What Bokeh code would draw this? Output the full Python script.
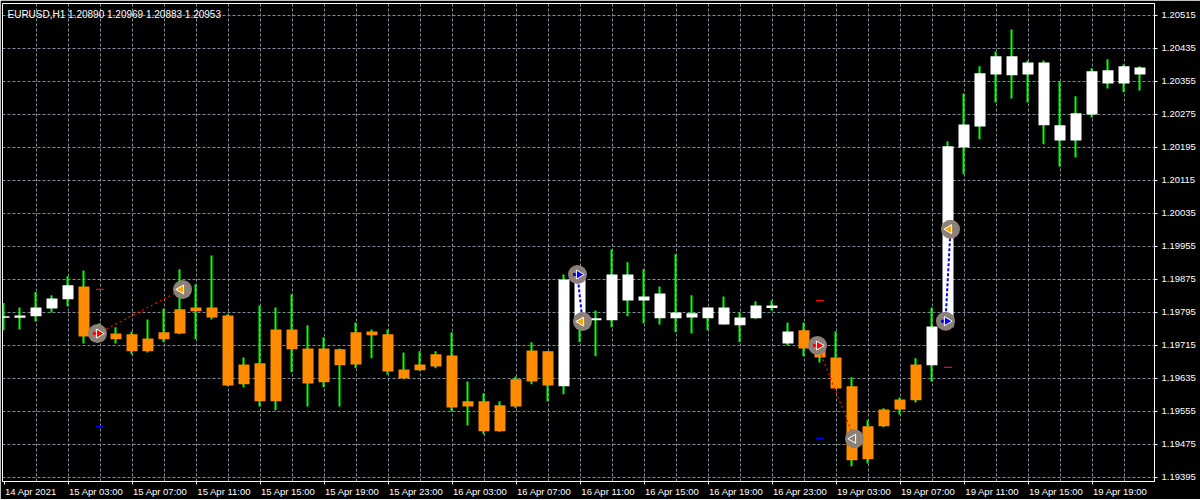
import math
from bokeh.plotting import figure
from bokeh.models import (Range1d, FixedTicker, PrintfTickFormatter, CustomJSTickFormatter,
                          ColumnDataSource, Label, LinearAxis)
from bokeh.embed import file_html
from bokeh.resources import INLINE

# ---------------- data ----------------
chart_title = "EURUSD,H1  1.20890 1.20969 1.20883 1.20953"

opens = [1.19781, 1.19781, 1.19785, 1.19804, 1.19826, 1.19857, 1.19741, 1.19743, 1.19741, 1.19731,
         1.19746, 1.19802, 1.19806, 1.19806, 1.19787, 1.19668, 1.19671, 1.19753, 1.19753, 1.19707,
         1.19707, 1.19705, 1.19746, 1.19748, 1.19741, 1.19656, 1.19668, 1.19693, 1.19690, 1.19579,
         1.19579, 1.19569, 1.19632, 1.19702, 1.19700, 1.19615, 1.19775, 1.19775, 1.19775, 1.19823,
         1.19823, 1.19780, 1.19780, 1.19782, 1.19780, 1.19765, 1.19763, 1.19780, 1.19805, 1.19719,
         1.19751, 1.19712, 1.19685, 1.19615, 1.19518, 1.19559, 1.19583, 1.19668, 1.19666, 1.19758,
         1.20194, 1.20245, 1.20371, 1.20369, 1.20371, 1.20248, 1.20211, 1.20211, 1.20274, 1.20349,
         1.20349, 1.20371]
highs = [1.19817, 1.19806, 1.19844, 1.19836, 1.19882, 1.19896, 1.19768, 1.19758, 1.19748, 1.19777,
         1.19804, 1.19899, 1.19862, 1.19932, 1.19789, 1.19685, 1.19811, 1.19806, 1.19838, 1.19763,
         1.19734, 1.19707, 1.19770, 1.19753, 1.19753, 1.19697, 1.19700, 1.19700, 1.19746, 1.19627,
         1.19598, 1.19579, 1.19639, 1.19722, 1.19700, 1.19886, 1.19884, 1.19799, 1.19947, 1.19916,
         1.19899, 1.19857, 1.19935, 1.19836, 1.19806, 1.19833, 1.19794, 1.19821, 1.19823, 1.19770,
         1.19770, 1.19734, 1.19748, 1.19637, 1.19533, 1.19562, 1.19588, 1.19683, 1.19806, 1.20209,
         1.20325, 1.20391, 1.20427, 1.20480, 1.20405, 1.20405, 1.20354, 1.20318, 1.20386, 1.20408,
         1.20395, 1.20391]
lows = [1.19751, 1.19753, 1.19772, 1.19794, 1.19809, 1.19719, 1.19726, 1.19719, 1.19693, 1.19697,
        1.19722, 1.19741, 1.19729, 1.19777, 1.19615, 1.19613, 1.19566, 1.19557, 1.19649, 1.19566,
        1.19613, 1.19566, 1.19659, 1.19683, 1.19644, 1.19632, 1.19653, 1.19659, 1.19554, 1.19520,
        1.19499, 1.19505, 1.19562, 1.19620, 1.19579, 1.19596, 1.19722, 1.19688, 1.19758, 1.19785,
        1.19768, 1.19765, 1.19746, 1.19743, 1.19751, 1.19765, 1.19722, 1.19779, 1.19799, 1.19714,
        1.19688, 1.19673, 1.19608, 1.19421, 1.19428, 1.19516, 1.19547, 1.19576, 1.19627, 1.19755,
        1.20129, 1.20214, 1.20303, 1.20313, 1.20303, 1.20202, 1.20148, 1.20170, 1.20267, 1.20337,
        1.20328, 1.20332]
closes = [1.19785, 1.19787, 1.19806, 1.19828, 1.19860, 1.19736, 1.19729, 1.19729, 1.19700, 1.19700,
          1.19729, 1.19743, 1.19797, 1.19782, 1.19617, 1.19620, 1.19579, 1.19579, 1.19705, 1.19622,
          1.19625, 1.19666, 1.19668, 1.19739, 1.19651, 1.19634, 1.19654, 1.19663, 1.19564, 1.19566,
          1.19506, 1.19506, 1.19566, 1.19627, 1.19617, 1.19874, 1.19874, 1.19780, 1.19886, 1.19886,
          1.19833, 1.19840, 1.19794, 1.19792, 1.19806, 1.19806, 1.19782, 1.19811, 1.19811, 1.19748,
          1.19707, 1.19685, 1.19610, 1.19436, 1.19438, 1.19518, 1.19559, 1.19581, 1.19760, 1.20197,
          1.20250, 1.20374, 1.20415, 1.20415, 1.20400, 1.20400, 1.20248, 1.20277, 1.20379, 1.20381,
          1.20391, 1.20388]

time_tick_bars = [0, 4, 8, 12, 16, 20, 24, 28, 32, 36, 40, 44, 48, 52, 56, 60, 64, 68]
time_tick_labels = ["14 Apr 2021", "15 Apr 03:00", "15 Apr 07:00", "15 Apr 11:00", "15 Apr 15:00",
                    "15 Apr 19:00", "15 Apr 23:00", "16 Apr 03:00", "16 Apr 07:00", "16 Apr 11:00",
                    "16 Apr 15:00", "16 Apr 19:00", "16 Apr 23:00", "19 Apr 03:00", "19 Apr 07:00",
                    "19 Apr 11:00", "19 Apr 15:00", "19 Apr 19:00"]
price_ticks = [1.19395, 1.19475, 1.19555, 1.19635, 1.19715, 1.19795, 1.19875, 1.19955,
               1.20035, 1.20115, 1.20195, 1.20275, 1.20355, 1.20435, 1.20515]

trade_side = ["sell", "buy", "sell", "buy"]
entry_bar = [6, 36, 51, 59]
entry_price = [1.19743, 1.19886, 1.19714, 1.19773]
exit_bar = [11, 36, 53, 59]
exit_price = [1.19850, 1.19772, 1.19488, 1.19996]
stop_loss = [1.19850, 1.19772, 1.19823, 1.19661]
take_profit = [1.19518, float("nan"), 1.19489, 1.19996]
exit_filled = [True, True, False, True]

# ---------------- layout / style ----------------
PX = 16.0                       # pixels per bar
FRAME_W, FRAME_H = 1152, 478
X0 = -1.5 / PX
Y_LO, Y_HI = 1.19384333, 1.20543121
FONT_NAME = "Liberation Sans"
FS_NUM = 9.5
FS = f"{FS_NUM}px"
BULL, BEAR, WICK = "#FFFFFF", "#FF8C00", "#00FF00"
GRID = "#7F8C9A"

# approximate advance widths (em) of Liberation Sans, to left-align time labels at their ticks
_W = {" ": 0.278, ":": 0.278, "A": 0.667, "p": 0.556, "r": 0.333}
def text_w(s):
    return sum(_W.get(ch, 0.556) for ch in s) * FS_NUM

p = figure(frame_width=FRAME_W, frame_height=FRAME_H,
           x_range=Range1d(X0, X0 + FRAME_W / PX), y_range=Range1d(Y_LO, Y_HI),
           x_axis_location="below", y_axis_location="right",
           output_backend="svg", toolbar_location=None,
           min_border_left=2, min_border_top=3, min_border_right=46, min_border_bottom=4,
           background_fill_color="black", border_fill_color="black",
           outline_line_color="white", outline_line_width=1)

# price axis (right)
p.yaxis.ticker = FixedTicker(ticks=price_ticks)
p.yaxis.formatter = PrintfTickFormatter(format="%.5f")
p.yaxis.major_label_text_color = "white"
p.yaxis.major_label_text_font = FONT_NAME
p.yaxis.major_label_text_font_size = FS
p.yaxis.major_tick_out = 3
p.yaxis.major_tick_in = 0
p.yaxis.minor_tick_line_color = None
p.yaxis.major_tick_line_color = "white"
p.yaxis.axis_line_color = "white"
p.yaxis.major_label_standoff = 4

# time axis: tick marks at the bars
p.xaxis.ticker = FixedTicker(ticks=time_tick_bars)
p.xaxis.formatter = CustomJSTickFormatter(code="return ''")
p.xaxis.major_label_text_font_size = "0px"
p.xaxis.major_label_standoff = 0
p.xaxis.major_tick_out = 3
p.xaxis.major_tick_in = 0
p.xaxis.minor_tick_line_color = None
p.xaxis.major_tick_line_color = "white"
p.xaxis.axis_line_color = "white"

# time labels: second axis, labels starting at their tick
lab_pos = [b + (1.0 + text_w(t) / 2.0) / PX for b, t in zip(time_tick_bars, time_tick_labels)]
lab_axis = LinearAxis(
    ticker=FixedTicker(ticks=lab_pos),
    formatter=CustomJSTickFormatter(
        args=dict(pos=lab_pos, labels=time_tick_labels),
        code="const i = pos.findIndex(v => Math.abs(v - tick) < 1e-6); return i >= 0 ? labels[i] : '';"),
    major_tick_out=0, major_tick_in=0, minor_tick_line_color=None, major_tick_line_color=None,
    axis_line_color=None, major_label_standoff=1,
    major_label_text_color="white", major_label_text_font=FONT_NAME, major_label_text_font_size=FS)
p.add_layout(lab_axis, "below")

# grids
p.xgrid.ticker = FixedTicker(ticks=list(range(2, len(opens), 2)))
for g in (p.xgrid, p.ygrid):
    g.grid_line_color = GRID
    g.grid_line_dash = "3 2"
    g.grid_line_width = 1

# candles
n = len(opens)
bars = list(range(n))
src = ColumnDataSource(dict(
    x=bars,
    wx=[b - 0.5 / PX for b in bars],
    top=[max(o, c) for o, c in zip(opens, closes)],
    bottom=[min(o, c) for o, c in zip(opens, closes)],
    high=highs, low=lows,
    color=[BULL if c >= o else BEAR for o, c in zip(opens, closes)],
))
p.segment(x0="wx", y0="high", x1="wx", y1="low", line_color=WICK, line_width=2, source=src)
p.vbar(x="x", width=11 / PX, top="top", bottom="bottom", fill_color="color",
       line_color=None, source=src)

# trades
ENTRY_SHIFT = -2.5 / PX
EXIT_SHIFT = 2.5 / PX
for side, eb, ep, xb, xp in zip(trade_side, entry_bar, entry_price, exit_bar, exit_price):
    if side == "sell":
        p.line([eb + ENTRY_SHIFT, xb + EXIT_SHIFT], [ep, xp], line_color="#FF0000",
               line_width=1.3, line_dash="2 3")
    else:
        p.line([eb + ENTRY_SHIFT, xb + EXIT_SHIFT], [ep, xp], line_color="#0000FF",
               line_width=2, line_dash="3 2")

p.scatter(x=entry_bar, y=stop_loss, marker="dash", size=8, line_color="#FF0000", line_width=1.3)
p.scatter(x=entry_bar, y=take_profit, marker="dash", size=8, line_color="#0000FF", line_width=1.3)

circ_x = [b + ENTRY_SHIFT for b in entry_bar] + [b + EXIT_SHIFT for b in exit_bar]
circ_y = entry_price + exit_price
p.scatter(x=circ_x, y=circ_y, marker="circle", size=19, fill_color="#8C8178", line_color=None)

arrow_col = ["#FF0000" if s == "sell" else "#0000FF" for s in trade_side]
p.scatter(x=[b + ENTRY_SHIFT - 2.0 / PX for b in entry_bar], y=entry_price, marker="dash",
          size=5, line_color=arrow_col, line_width=3)
p.scatter(x=[b + ENTRY_SHIFT + 1.5 / PX for b in entry_bar], y=entry_price, marker="triangle",
          angle=-math.pi / 2, size=9, fill_color=arrow_col, line_color="white", line_width=1)
p.scatter(x=[b + EXIT_SHIFT - 1.5 / PX for b in exit_bar], y=exit_price, marker="triangle",
          angle=math.pi / 2, size=9,
          fill_color=["#FFA500" if f else "#8C8178" for f in exit_filled],
          line_color="white", line_width=1)

# title text
p.add_layout(Label(x=5, y=FRAME_H - 10.5, x_units="screen", y_units="screen",
                   text=chart_title, text_color="white", text_font=FONT_NAME,
                   text_font_size="10px", text_baseline="alphabetic", text_align="left"))

open("out.html", "w").write(file_html(p, INLINE))
